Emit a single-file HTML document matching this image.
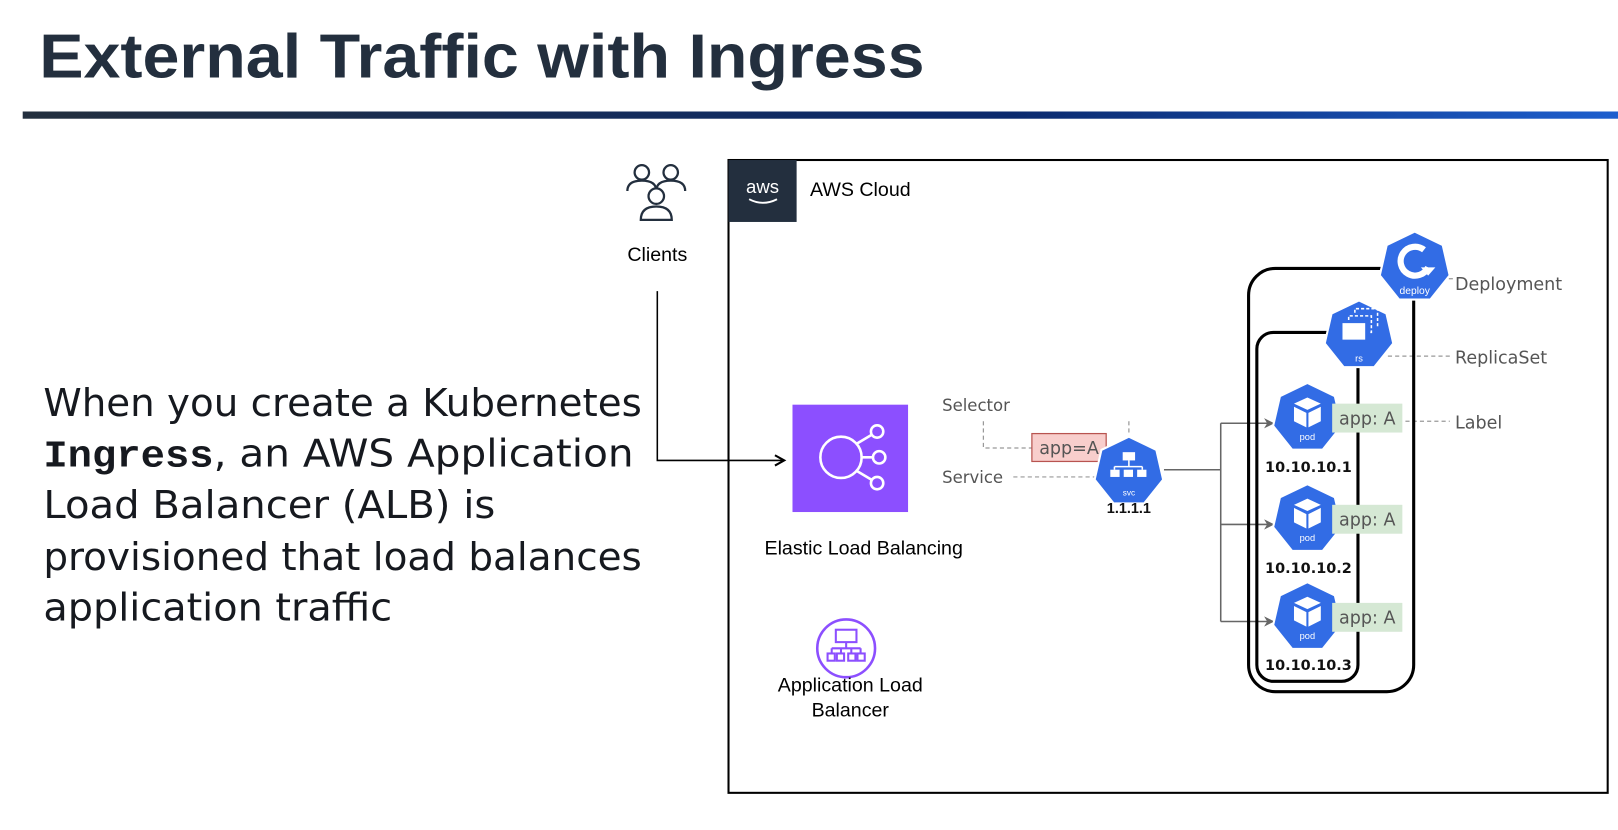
<!DOCTYPE html>
<html><head><meta charset="utf-8"><style>
html,body{margin:0;padding:0;background:#fff;width:1618px;height:830px;overflow:hidden}
svg{display:block}
</style></head><body>
<svg width="1618" height="830" viewBox="0 0 1568 804" preserveAspectRatio="none" xmlns="http://www.w3.org/2000/svg" font-family="Liberation Sans, DejaVu Sans, sans-serif">
<defs>
<linearGradient id="bar" x1="0" x2="1" y1="0" y2="0">
<stop offset="0" stop-color="#232f3e"/><stop offset="0.6" stop-color="#0b2a6e"/><stop offset="1" stop-color="#1f63d6"/>
</linearGradient>
<polygon id="hep" points="0,-34 26.6,-21.2 33.2,7.6 14.8,30.6 -14.8,30.6 -33.2,7.6 -26.6,-21.2" fill="#326ce5" stroke="#fff" stroke-width="2"/>
<g id="cube" fill="#fff">
<polygon points="0,-20 13,-14 0,-8 -13,-14"/>
<polygon points="-13,-11 -1,-5 -1,9 -13,3"/>
<polygon points="13,-11 1,-5 1,9 13,3"/>
</g>
<marker id="ar" markerWidth="10" markerHeight="10" refX="9" refY="5" orient="auto" markerUnits="userSpaceOnUse"><path d="M0,0 L10,5 L0,10 L3,5 z" fill="#666"/></marker>
<marker id="arb" markerWidth="12" markerHeight="12" refX="10" refY="6" orient="auto" markerUnits="userSpaceOnUse"><path d="M1,1 L10,6 L1,11" fill="none" stroke="#000" stroke-width="2"/></marker>
</defs>

<text x="38" y="75" font-size="60" font-weight="bold" fill="#232f3e" textLength="858" lengthAdjust="spacingAndGlyphs">External Traffic with Ingress</text>
<rect x="22" y="108" width="1596" height="7" fill="url(#bar)"/>

<g font-family="DejaVu Sans, Liberation Sans, sans-serif" font-size="37" fill="#16191f">
<text x="42" y="403" textLength="580" lengthAdjust="spacingAndGlyphs">When you create a Kubernetes</text>
<text x="42" y="452" textLength="572" lengthAdjust="spacingAndGlyphs"><tspan font-family="Liberation Mono, DejaVu Sans Mono, monospace" font-weight="bold">Ingress</tspan>, an AWS Application</text>
<text x="42" y="502" textLength="438" lengthAdjust="spacingAndGlyphs">Load Balancer (ALB) is</text>
<text x="42" y="552" textLength="580" lengthAdjust="spacingAndGlyphs">provisioned that load balances</text>
<text x="42" y="601" textLength="338" lengthAdjust="spacingAndGlyphs">application traffic</text>
</g>

<g fill="none" stroke="#232f3e" stroke-width="2.2">
<circle cx="622" cy="167" r="7"/><path d="M608,185 q0,-10 14,-10 q14,0 14,10"/>
<circle cx="650" cy="167" r="7"/><path d="M636,185 q0,-10 14,-10 q14,0 14,10"/>
<circle cx="636" cy="190" r="7.5" fill="#fff"/><path d="M621,213 q0,-13 15,-13 q15,0 15,13 z" fill="#fff"/>
</g>
<text x="637" y="253" font-size="19" text-anchor="middle" fill="#000">Clients</text>

<rect x="706" y="155" width="852" height="613" fill="none" stroke="#000" stroke-width="2"/>
<rect x="706" y="155" width="66" height="60" fill="#232f3e"/>
<text x="739" y="187" font-size="18" fill="#fff" text-anchor="middle">aws</text>
<path d="M726,193 q13,7 27,0" stroke="#fff" stroke-width="1.8" fill="none"/>
<text x="785" y="190" font-size="19" fill="#000">AWS Cloud</text>

<path d="M637,282 V446 H760" fill="none" stroke="#000" stroke-width="1.5" marker-end="url(#arb)"/>

<rect x="768" y="392" width="112" height="104" fill="#8c4fff"/>
<g stroke="#fff" stroke-width="2.5" fill="none">
<circle cx="815" cy="443" r="20"/>
<circle cx="850" cy="418" r="6"/><circle cx="852" cy="443" r="6"/><circle cx="850" cy="468" r="6"/>
<path d="M830,430 L845,421 M835,443 H846 M830,456 L845,465"/>
</g>
<text x="837" y="537" font-size="19" text-anchor="middle" fill="#000">Elastic Load Balancing</text>

<circle cx="820" cy="628" r="28" fill="none" stroke="#8c4fff" stroke-width="2.5"/>
<g stroke="#8c4fff" stroke-width="2" fill="none">
<rect x="810" y="610" width="20" height="12"/>
<path d="M820,622 V628 M806,628 H834 M806,628 V633 M815,628 V633 M825,628 V633 M834,628 V633"/>
<rect x="802" y="633" width="7" height="7"/><rect x="811" y="633" width="7" height="7"/><rect x="822" y="633" width="7" height="7"/><rect x="831" y="633" width="7" height="7"/>
</g>
<text x="824" y="670" font-size="19" text-anchor="middle" fill="#000">Application Load</text>
<text x="824" y="694" font-size="19" text-anchor="middle" fill="#000">Balancer</text>

<g font-family="DejaVu Sans, sans-serif" font-size="16" fill="#555">
<text x="913" y="398">Selector</text>
<text x="913" y="468">Service</text>
</g>
<g stroke="#999" stroke-width="1.2" stroke-dasharray="4,3" fill="none">
<path d="M953,408 V434 H1000"/>
<path d="M982,462 H1062"/>
<path d="M1094,408 V420"/>
<path d="M1345,345 H1405"/>
<path d="M1362,408 H1405"/>
<path d="M1404,270 H1408"/>
</g>
<rect x="1000" y="420" width="72" height="27" fill="#f8cecc" stroke="#b85450" stroke-width="1.2"/>
<text x="1036" y="440" font-family="DejaVu Sans, sans-serif" font-size="17" fill="#555" text-anchor="middle">app=A</text>

<use href="#hep" transform="translate(1094,457)"/>
<g fill="#fff"><rect x="1088" y="438" width="12" height="8"/><rect x="1076" y="455" width="9" height="7"/><rect x="1089" y="455" width="9" height="7"/><rect x="1102" y="455" width="9" height="7"/></g>
<path d="M1094,446 V452 M1080,452 H1107 M1080,452 V455 M1107,452 V455" stroke="#fff" stroke-width="1.5"/>
<text x="1094" y="480" font-size="8" fill="#fff" text-anchor="middle">svc</text>
<text x="1094" y="497" font-size="14" font-weight="bold" fill="#111" text-anchor="middle">1.1.1.1</text>

<g stroke="#666" stroke-width="1.5" fill="none">
<path d="M1128,455 H1183"/>
<path d="M1183,410 V602"/>
<path d="M1183,410 H1234" marker-end="url(#ar)"/>
<path d="M1183,508 H1234" marker-end="url(#ar)"/>
<path d="M1183,602 H1234" marker-end="url(#ar)"/>
</g>

<rect x="1210" y="260" width="160" height="410" rx="26" fill="none" stroke="#000" stroke-width="3"/>
<rect x="1218" y="322" width="98" height="338" rx="16" fill="none" stroke="#000" stroke-width="3"/>

<use href="#hep" transform="translate(1371,259) scale(1.02)"/>
<path d="M1380,242 A14,14 0 1 0 1384,259" fill="none" stroke="#fff" stroke-width="6"/>
<polygon points="1377,259 1391,259 1384,267" fill="#fff"/>
<text x="1371" y="285" font-size="10" fill="#fff" text-anchor="middle">deploy</text>

<use href="#hep" transform="translate(1317,325)"/>
<rect x="1301" y="313" width="22" height="16" fill="#fff"/>
<path d="M1307,310 V306 H1329 V322 H1326 M1313,303 V299 H1335 V316" fill="none" stroke="#fff" stroke-width="1.5" stroke-dasharray="3,2"/>
<text x="1317" y="350" font-size="9" fill="#fff" text-anchor="middle">rs</text>

<g>
<use href="#hep" transform="translate(1267,405)"/><use href="#cube" transform="translate(1267,405)"/>
<text x="1267" y="426" font-size="9" fill="#fff" text-anchor="middle">pod</text>
<use href="#hep" transform="translate(1267,503)"/><use href="#cube" transform="translate(1267,503)"/>
<text x="1267" y="524" font-size="9" fill="#fff" text-anchor="middle">pod</text>
<use href="#hep" transform="translate(1267,598)"/><use href="#cube" transform="translate(1267,598)"/>
<text x="1267" y="619" font-size="9" fill="#fff" text-anchor="middle">pod</text>
</g>
<g fill="#d5e8d4">
<rect x="1291" y="391" width="68" height="28"/>
<rect x="1291" y="489" width="68" height="28"/>
<rect x="1291" y="584" width="68" height="28"/>
</g>
<g font-family="DejaVu Sans, sans-serif" font-size="17" fill="#555" text-anchor="middle">
<text x="1325" y="411">app: A</text>
<text x="1325" y="509">app: A</text>
<text x="1325" y="604">app: A</text>
</g>
<g font-family="DejaVu Sans, sans-serif" font-size="14" font-weight="bold" fill="#111" text-anchor="middle">
<text x="1268" y="457">10.10.10.1</text>
<text x="1268" y="555">10.10.10.2</text>
<text x="1268" y="649">10.10.10.3</text>
</g>

<g font-family="DejaVu Sans, sans-serif" font-size="17" fill="#555">
<text x="1410" y="281">Deployment</text>
<text x="1410" y="352">ReplicaSet</text>
<text x="1410" y="415">Label</text>
</g>
</svg>
</body></html>
